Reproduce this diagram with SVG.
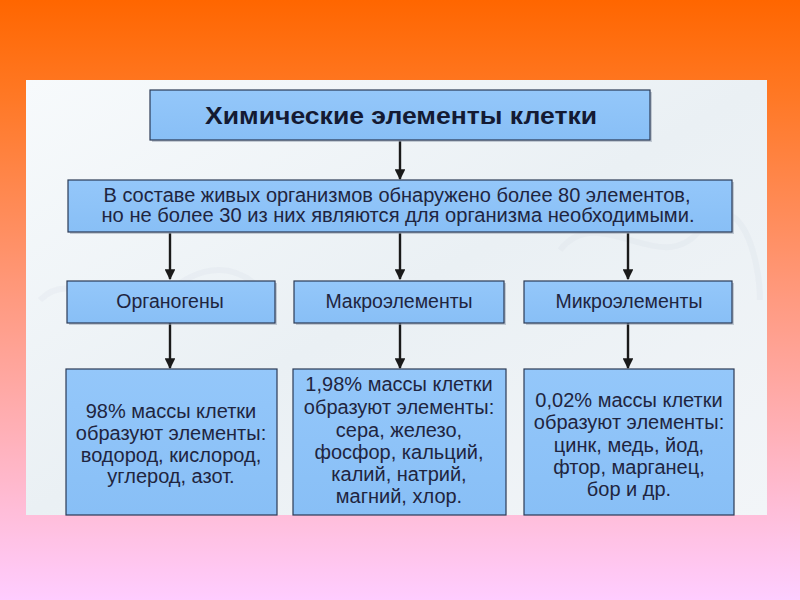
<svg xmlns="http://www.w3.org/2000/svg" width="800" height="600" viewBox="0 0 800 600">
<defs>
<linearGradient id="bg" x1="0" y1="0" x2="0" y2="1">
<stop offset="0" stop-color="#ff6600"/>
<stop offset="0.15" stop-color="#ff7722"/>
<stop offset="0.5" stop-color="#ff9a80"/>
<stop offset="0.85" stop-color="#ffbdd8"/>
<stop offset="1" stop-color="#ffccff"/>
</linearGradient>
<linearGradient id="panel" x1="0" y1="0" x2="1" y2="1">
<stop offset="0" stop-color="#f7fafc"/>
<stop offset="0.5" stop-color="#eaf0f4"/>
<stop offset="1" stop-color="#f2f5f8"/>
</linearGradient>
<linearGradient id="box" x1="0" y1="0" x2="0" y2="1">
<stop offset="0" stop-color="#94c7fa"/>
<stop offset="1" stop-color="#88bff6"/>
</linearGradient>
<marker id="ah" viewBox="0 0 10 10" refX="9" refY="5" markerWidth="4.5" markerHeight="4.5" markerUnits="strokeWidth" orient="auto">
<path d="M0,0 L10,5 L0,10 z" fill="#1a1a1a"/>
</marker>
</defs>
<style>
.b{fill:url(#box);stroke:#2b3a55;stroke-width:1.2}
.sh{fill:#9aa6b4;opacity:0.55}
.t{font-family:"Liberation Sans",Arial,sans-serif;fill:#1f2540;text-anchor:middle}
.tt{font-size:24px;font-weight:bold;fill:#141a33}
.m{font-size:19.5px}
.s{font-size:20px}
.c line{stroke:#1a1a1a;stroke-width:2.4;marker-end:url(#ah)}
</style>
<rect width="800" height="600" fill="url(#bg)"/>
<rect x="26" y="80" width="741" height="435" fill="url(#panel)"/>
<g opacity="0.15" fill="none" stroke="#c8d2dc" stroke-width="6">
<path d="M40,300 C80,260 120,340 160,300 S240,260 270,300"/>
<path d="M560,250 C600,200 660,280 700,230 S760,260 760,300"/>
</g>

<g class="c">
<line x1="400" y1="141" x2="400" y2="179"/>
<line x1="170" y1="233" x2="170" y2="279"/>
<line x1="400" y1="233" x2="400" y2="279"/>
<line x1="628" y1="233" x2="628" y2="279"/>
<line x1="170" y1="323" x2="170" y2="368"/>
<line x1="400" y1="323" x2="400" y2="368"/>
<line x1="628" y1="323" x2="628" y2="368"/>
</g>

<g id="title">
<rect class="sh" x="152" y="92" width="500" height="50"/>
<rect class="b" x="150" y="90" width="500" height="50"/>
<text class="t tt" x="401" y="124" textLength="392" lengthAdjust="spacingAndGlyphs">Химические элементы клетки</text>
</g>
<g id="intro">
<rect class="sh" x="70" y="182" width="664" height="52"/>
<rect class="b" x="68" y="180" width="664" height="52"/>
<text class="t m" x="397" y="202" textLength="587" lengthAdjust="spacingAndGlyphs">В составе живых организмов обнаружено более 80 элементов,</text>
<text class="t m" x="398" y="222" textLength="593" lengthAdjust="spacingAndGlyphs">но не более 30 из них являются для организма необходимыми.</text>
</g>
<g id="organogens">
<rect class="sh" x="69" y="283" width="208" height="42"/>
<rect class="b" x="67" y="281" width="208" height="42"/>
<text class="t m" x="170" y="308">Органогены</text>
</g>
<g id="macro">
<rect class="sh" x="296" y="283" width="210" height="42"/>
<rect class="b" x="294" y="281" width="210" height="42"/>
<text class="t m" x="399" y="308">Макроэлементы</text>
</g>
<g id="micro">
<rect class="sh" x="526" y="283" width="208" height="42"/>
<rect class="b" x="524" y="281" width="208" height="42"/>
<text class="t m" x="629" y="308">Микроэлементы</text>
</g>
<g id="organogens-desc">
<rect class="b" x="66" y="369" width="211" height="146"/>
<text class="t s" x="171" y="418">98% массы клетки</text>
<text class="t s" x="171" y="440">образуют элементы:</text>
<text class="t s" x="171" y="462">водород, кислород,</text>
<text class="t s" x="171" y="483">углерод, азот.</text>
</g>
<g id="macro-desc">
<rect class="b" x="293" y="369" width="213" height="146"/>
<text class="t s" x="399" y="391">1,98% массы клетки</text>
<text class="t s" x="399" y="414">образуют элементы:</text>
<text class="t s" x="399" y="437">сера, железо,</text>
<text class="t s" x="399" y="459">фосфор, кальций,</text>
<text class="t s" x="399" y="481">калий, натрий,</text>
<text class="t s" x="399" y="503">магний, хлор.</text>
</g>
<g id="micro-desc">
<rect class="b" x="524" y="369" width="210" height="146"/>
<text class="t s" x="629" y="407">0,02% массы клетки</text>
<text class="t s" x="629" y="429">образуют элементы:</text>
<text class="t s" x="629" y="452">цинк, медь, йод,</text>
<text class="t s" x="629" y="474">фтор, марганец,</text>
<text class="t s" x="629" y="496">бор и др.</text>
</g>
</svg>
